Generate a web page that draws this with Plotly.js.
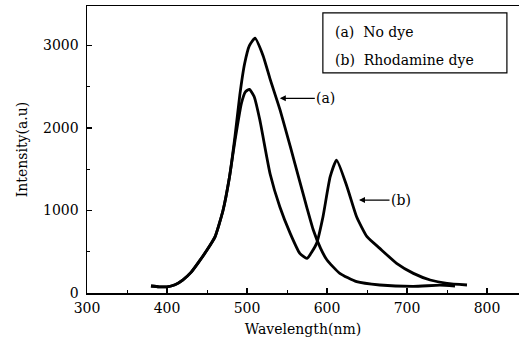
<!DOCTYPE html>
<html>
<head>
<meta charset="utf-8">
<script src="https://cdn.plot.ly/plotly-3.0.1.min.js"></script>
<style>html,body{margin:0;padding:0;background:#fff;}#chart{width:521px;height:345px;}</style>
</head>
<body>
<div id="chart"></div>
<script>
// Curve (a): No dye
const wavelengthA = [380, 390, 400, 410, 420, 430, 440, 450, 460, 470, 478, 485, 491, 497, 503, 510, 520, 529, 541, 554, 566, 575, 583, 592, 600, 616, 637, 666, 708, 741, 760];
const intensityA  = [85, 75, 75, 100, 160, 250, 380, 520, 680, 1000, 1400, 1900, 2400, 2780, 3000, 3090, 2880, 2590, 2230, 1780, 1350, 1030, 760, 540, 400, 238, 137, 97, 80, 95, 85];
// Curve (b): Rhodamine dye
const wavelengthB = [380, 390, 400, 410, 420, 430, 440, 450, 460, 470, 478, 485, 493, 498, 503, 509, 516, 529, 541, 554, 566, 575, 587, 595, 604, 612, 625, 637, 650, 666, 687, 708, 729, 750, 775];
const intensityB  = [85, 75, 75, 100, 160, 250, 380, 520, 680, 1000, 1400, 1850, 2300, 2440, 2470, 2380, 2100, 1440, 1046, 723, 481, 420, 602, 925, 1410, 1612, 1289, 925, 683, 541, 360, 238, 158, 117, 97];
const legendLines = ["(a)&nbsp;&nbsp;No dye", "(b)&nbsp;&nbsp;Rhodamine dye"];
const curveLabels = ["(a)", "(b)"];
const xTickVals = [300, 400, 500, 600, 700, 800];
const yTickVals = [0, 1000, 2000, 3000];

const font = {family: "DejaVu Serif, serif", color: "#000"};
const f = (s) => Object.assign({size: s}, font);

const traces = [
  {x: wavelengthA, y: intensityA, mode: "lines", line: {color: "#000", width: 2.8, shape: "spline", smoothing: 0.5}, showlegend: false, hoverinfo: "skip"},
  {x: wavelengthB, y: intensityB, mode: "lines", line: {color: "#000", width: 2.8, shape: "spline", smoothing: 0.5}, showlegend: false, hoverinfo: "skip"}
];

const layout = {
  width: 521, height: 345,
  margin: {l: 87, r: 2, t: 6, b: 52},
  paper_bgcolor: "#fff", plot_bgcolor: "#fff",
  font: f(14),
  xaxis: {
    range: [300, 840], tickvals: xTickVals, ticks: "inside", ticklen: 5, tickwidth: 1.2, tickcolor: "#000",
    minor: {dtick: 50, ticks: "inside", ticklen: 3, tickwidth: 1, tickcolor: "#000"},
    showgrid: false, zeroline: false, showline: true, linecolor: "#000", linewidth: 1.5, mirror: true,
    tickfont: f(14), ticklabelstandoff: 2,
    title: {text: "Wavelength(nm)", font: f(14), standoff: 9}
  },
  yaxis: {
    range: [0, 3480], tickvals: yTickVals, ticks: "inside", ticklen: 5, tickwidth: 1.2, tickcolor: "#000",
    minor: {dtick: 500, ticks: "inside", ticklen: 3, tickwidth: 1, tickcolor: "#000"},
    showgrid: false, zeroline: false, showline: true, linecolor: "#000", linewidth: 1.5,
    tickfont: f(14), ticklabelstandoff: 4,
    title: {text: "Intensity(a.u)", font: f(14), standoff: 12}
  },
  shapes: [
    {type: "rect", xref: "paper", yref: "paper", x0: 0.546, x1: 0.972, y0: 0.767, y1: 0.976,
     line: {color: "#000", width: 1.2}, fillcolor: "#fff", layer: "above"}
  ],
  annotations: [
    {x: 541, y: 2360, xref: "x", yref: "y", text: curveLabels[0], showarrow: true, axref: "pixel", ayref: "pixel", ax: 46, ay: 0,
     arrowhead: 2, arrowsize: 1, arrowwidth: 1.2, arrowcolor: "#000", font: f(14)},
    {x: 640, y: 1127, xref: "x", yref: "y", text: curveLabels[1], showarrow: true, axref: "pixel", ayref: "pixel", ax: 42, ay: 0,
     arrowhead: 2, arrowsize: 1, arrowwidth: 1.2, arrowcolor: "#000", font: f(14)},
    {x: 0.569, y: 0.909, xref: "paper", yref: "paper", xanchor: "left", yanchor: "middle",
     text: legendLines[0], showarrow: false, font: f(14)},
    {x: 0.569, y: 0.812, xref: "paper", yref: "paper", xanchor: "left", yanchor: "middle",
     text: legendLines[1], showarrow: false, font: f(14)}
  ]
};

Plotly.newPlot("chart", traces, layout, {staticPlot: true, displayModeBar: false});
</script>
</body>
</html>
